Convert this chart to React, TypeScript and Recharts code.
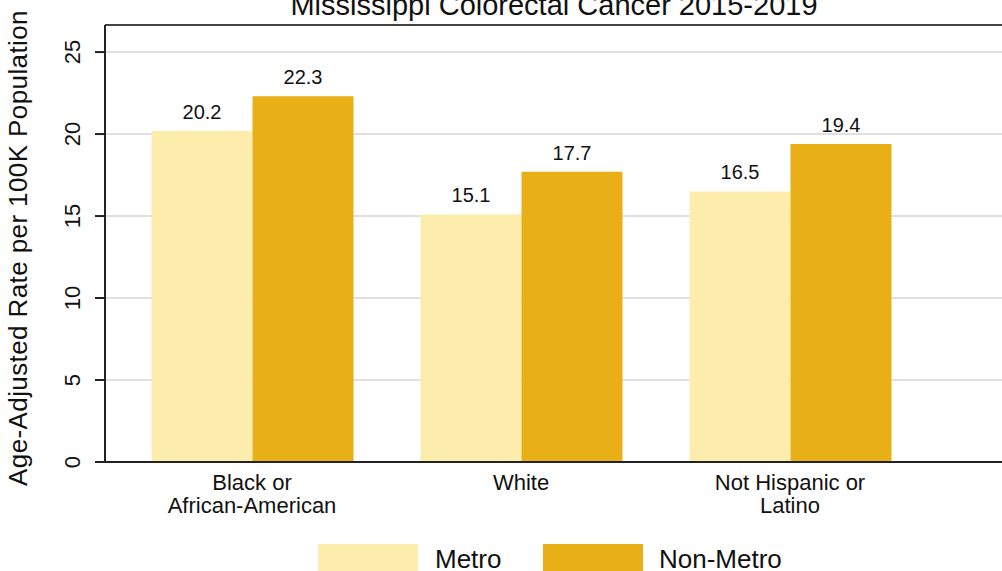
import React from 'react';
import { BarChart, Bar, XAxis, YAxis, CartesianGrid, LabelList, ReferenceLine } from 'recharts';

const categories = ['Black or\nAfrican-American', 'White', 'Not Hispanic or\nLatino'];
const metroValues = [20.2, 15.1, 16.5];
const nonMetroValues = [22.3, 17.7, 19.4];
const yTicks = [0, 5, 10, 15, 20, 25];
const yMax = 26.65;
const seriesNames = ['Metro', 'Non-Metro'];
const seriesColors = ['#FDEDAD', '#E8AF16'];
const chartTitle = 'Mississippi Colorectal Cancer 2015-2019';
const yAxisTitle = 'Age-Adjusted Rate per 100K Population';

const data = categories.map((c, i) => ({ category: c, metro: metroValues[i], nonMetro: nonMetroValues[i] }));

const FONT = '"Liberation Sans", Arial, Helvetica, sans-serif';

const YTick = (props: any) => {
  const { y, payload } = props;
  return (
    <text x={80} y={y} transform={`rotate(-90, 80, ${y})`} textAnchor="middle" fontSize={22} fill="#111">
      {payload.value}
    </text>
  );
};

const XTick = (props: any) => {
  const { x, y, payload } = props;
  const lines = String(payload.value).split('\n');
  return (
    <text x={x} y={y + 28} textAnchor="middle" fontSize={22} fill="#111">
      {lines.map((l, i) => (
        <tspan key={i} x={x} dy={i === 0 ? 0 : 23}>{l}</tspan>
      ))}
    </text>
  );
};

const YLabel = () => (
  <text
    x={27}
    y={248}
    transform="rotate(-90, 27, 248)"
    textAnchor="middle"
    fontSize={26}
    letterSpacing={0.4}
    fill="#111"
  >
    {yAxisTitle}
  </text>
);

export default function App() {
  return (
    <div style={{ position: 'fixed', left: 0, top: 0, width: 1002, height: 571, overflow: 'hidden', background: '#fff', fontFamily: FONT }}>
      <BarChart
        width={1002}
        height={571}
        data={data}
        margin={{ top: 25, right: 0, bottom: 0, left: 0 }}
        barGap={0}
        barSize={101}
      >
        <CartesianGrid vertical={false} stroke="#E0E0E0" strokeWidth={2} />
        <XAxis
          dataKey="category"
          interval={0}
          tick={<XTick />}
          tickLine={false}
          tickSize={0}
          tickMargin={0}
          axisLine={{ stroke: '#222', strokeWidth: 2 }}
          padding={{ left: 12.5, right: 77.5 }}
          height={109}
        />
        <YAxis
          width={105}
          domain={[0, yMax]}
          ticks={yTicks}
          tick={<YTick />}
          tickSize={10}
          tickLine={{ stroke: '#222', strokeWidth: 2 }}
          axisLine={{ stroke: '#222', strokeWidth: 2 }}
          label={<YLabel />}
          allowDataOverflow
        />
        <ReferenceLine y={yMax} stroke="#444" strokeWidth={2} />
        <Bar dataKey="metro" name={seriesNames[0]} fill={seriesColors[0]} isAnimationActive={false}>
          <LabelList dataKey="metro" position="top" offset={12} fontSize={20} fill="#111" />
        </Bar>
        <Bar dataKey="nonMetro" name={seriesNames[1]} fill={seriesColors[1]} isAnimationActive={false}>
          <LabelList dataKey="nonMetro" position="top" offset={12} fontSize={20} fill="#111" />
        </Bar>
      </BarChart>
      <svg width={1002} height={571} style={{ position: 'absolute', left: 0, top: 0, pointerEvents: 'none' }}>
        <text x={554} y={15} textAnchor="middle" fontSize={29} fill="#111">{chartTitle}</text>
        {seriesNames.map((name, i) => (
          <g key={name}>
            <rect x={318 + i * 225} y={544} width={100} height={30} fill={seriesColors[i]} />
            <text x={435 + i * 224} y={568} fontSize={26} fill="#111">{name}</text>
          </g>
        ))}
      </svg>
    </div>
  );
}
